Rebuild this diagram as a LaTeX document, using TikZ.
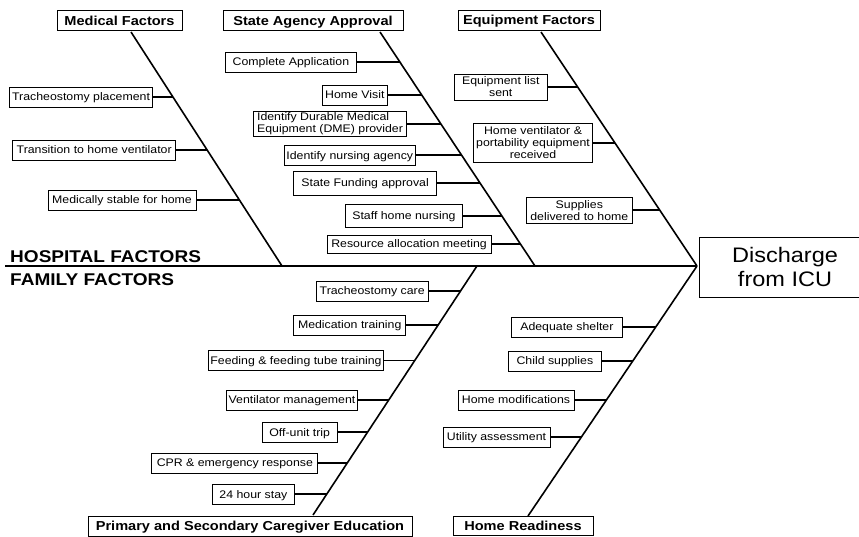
\documentclass[tikz,border=0pt]{standalone}
\usepackage{fontspec}
\setmainfont{Liberation Sans}[FakeStretch=1.12]
\usetikzlibrary{calc,positioning}
\tikzset{
  cause/.style    = {draw, line width=0.8pt, inner xsep=2pt, inner ysep=1.5pt, minimum height=20pt, text height=7.9pt, text depth=0pt, font=\fontsize{11}{12}\selectfont},
  tallcause/.style= {cause, align=center, inner ysep=3pt, text height={}, text depth={}},
  category/.style = {draw, line width=0.9pt, inner xsep=2pt, inner ysep=1pt, minimum height=20pt, text height=9.3pt, text depth=0pt, font=\fontsize{13}{15}\selectfont\bfseries},
  effect/.style   = {draw, line width=0.9pt, align=center, font=\fontsize{21}{23.5}\selectfont},
  side/.style     = {anchor=base west, inner sep=0pt, font=\fontsize{17}{20}\selectfont\bfseries},
  bone/.style     = {line width=1.6pt},
  twig/.style     = {line width=1.2pt},
}

\begin{document}
\begin{tikzpicture}[x=1pt, y=-1pt]
    \useasboundingbox (0,0) rectangle (859,537);

    % Spine and effect
    \coordinate (tail) at (5,266);
    \coordinate (head) at (697,266);
    \node[effect, minimum width=172pt, minimum height=60pt] (icu) at (785,267) {Discharge\\from ICU};
    \draw[bone] (tail) -- (head);
    \node[side] (hospital) at (10,262.7) {HOSPITAL FACTORS};
    \node[side] (family) at (10,285) {FAMILY FACTORS};

    % Bone ends
    \coordinate (medtop) at (131,32);   \coordinate (medbot) at (282,266);
    \coordinate (statop) at (380,32);   \coordinate (stabot) at (535,266);
    \coordinate (equtop) at (541,32);   \coordinate (equbot) at (697,266);
    \coordinate (edutop) at (477,266);  \coordinate (edubot) at (313,515);
    \coordinate (homtop) at (697,266);  \coordinate (hombot) at (528,516);

    % Medical factors
    \node[category, minimum width=125pt] (medical) at (119.5,20.5) {Medical Factors};
    \draw[bone] (medtop) -- (medbot);
    \coordinate (m1) at ($(medtop)!0.278!(medbot)$);
    \coordinate (m2) at ($(medtop)!0.504!(medbot)$);
    \coordinate (m3) at ($(medtop)!0.718!(medbot)$);
    \node[cause, minimum width=143pt, left=20pt of m1] (trachplace) {Tracheostomy placement};
    \node[cause, minimum width=163pt, left=31pt of m2] (transition) {Transition to home ventilator};
    \node[cause, minimum width=148pt, left=43pt of m3] (stable) {Medically stable for home};
    \draw[twig] (trachplace) -- (m1);
    \draw[twig] (transition) -- (m2);
    \draw[twig] (stable) -- (m3);

    % State agency approval
    \node[category, minimum width=180pt] (state) at (313,20.5) {State Agency Approval};
    \draw[bone] (statop) -- (stabot);
    \coordinate (s1) at ($(statop)!0.128!(stabot)$);
    \coordinate (s2) at ($(statop)!0.269!(stabot)$);
    \coordinate (s3) at ($(statop)!0.393!(stabot)$);
    \coordinate (s4) at ($(statop)!0.526!(stabot)$);
    \coordinate (s5) at ($(statop)!0.645!(stabot)$);
    \coordinate (s6) at ($(statop)!0.786!(stabot)$);
    \coordinate (s7) at ($(statop)!0.906!(stabot)$);
    \node[cause, minimum width=131pt, left=43pt of s1] (application) {Complete Application};
    \node[cause, minimum width=65pt, left=34pt of s2] (visit) {Home Visit};
    \node[tallcause, minimum width=153pt, left=34pt of s3, align=left, inner ysep=1.5pt] (dme) {Identify Durable Medical\\Equipment (DME) provider};
    \node[cause, minimum width=130pt, left=46pt of s4] (agency) {Identify nursing agency};
    \node[cause, minimum width=143pt, minimum height=24pt, left=43pt of s5] (funding) {State Funding approval};
    \node[cause, minimum width=117pt, minimum height=23pt, left=39pt of s6] (staff) {Staff home nursing};
    \node[cause, minimum width=164pt, minimum height=18pt, left=29pt of s7] (resource) {Resource allocation meeting};
    \draw[twig] (application) -- (s1);
    \draw[twig] (visit) -- (s2);
    \draw[twig] (dme) -- (s3);
    \draw[twig] (agency) -- (s4);
    \draw[twig] (funding) -- (s5);
    \draw[twig] (staff) -- (s6);
    \draw[twig] (resource) -- (s7);

    % Equipment factors
    \node[category, minimum width=142pt] (equipment) at (529,20) {Equipment Factors};
    \draw[bone] (equtop) -- (equbot);
    \coordinate (e1) at ($(equtop)!0.235!(equbot)$);
    \coordinate (e2) at ($(equtop)!0.474!(equbot)$);
    \coordinate (e3) at ($(equtop)!0.761!(equbot)$);
    \node[tallcause, minimum width=93pt, left=30pt of e1] (eqlist) {Equipment list\\sent};
    \node[tallcause, minimum width=119pt, left=22pt of e2] (ventilator) {Home ventilator \&\\portability equipment\\received};
    \node[tallcause, minimum width=106pt, left=27pt of e3] (supplies) {Supplies\\delivered to home};
    \draw[twig] (eqlist) -- (e1);
    \draw[twig] (ventilator) -- (e2);
    \draw[twig] (supplies) -- (e3);

    % Caregiver education
    \node[category, minimum width=324pt] (education) at (250,526) {Primary and Secondary Caregiver Education};
    \draw[bone] (edubot) -- (edutop);
    \coordinate (c1) at ($(edutop)!0.100!(edubot)$);
    \coordinate (c2) at ($(edutop)!0.237!(edubot)$);
    \coordinate (c3) at ($(edutop)!0.378!(edubot)$);
    \coordinate (c4) at ($(edutop)!0.538!(edubot)$);
    \coordinate (c5) at ($(edutop)!0.667!(edubot)$);
    \coordinate (c6) at ($(edutop)!0.791!(edubot)$);
    \coordinate (c7) at ($(edutop)!0.916!(edubot)$);
    \node[cause, minimum width=112pt, left=32pt of c1] (trachcare) {Tracheostomy care};
    \node[cause, minimum width=112pt, left=32pt of c2] (medication) {Medication training};
    \node[cause, minimum width=174pt, left=31pt of c3] (feeding) {Feeding \& feeding tube training};
    \node[cause, minimum width=130pt, left=31pt of c4] (ventman) {Ventilator management};
    \node[cause, minimum width=75pt, left=30pt of c5] (trip) {Off-unit trip};
    \node[cause, minimum width=166pt, left=29pt of c6] (cpr) {CPR \& emergency response};
    \node[cause, minimum width=82pt, left=32pt of c7] (stay) {24 hour stay};
    \draw[twig] (trachcare) -- (c1);
    \draw[twig] (medication) -- (c2);
    \draw[twig] (feeding) -- (c3);
    \draw[twig] (ventman) -- (c4);
    \draw[twig] (trip) -- (c5);
    \draw[twig] (cpr) -- (c6);
    \draw[twig] (stay) -- (c7);

    % Home readiness
    \node[category, minimum width=140pt, minimum height=19pt] (readiness) at (523,526.3) {Home Readiness};
    \draw[bone] (hombot) -- (homtop);
    \coordinate (h1) at ($(homtop)!0.244!(hombot)$);
    \coordinate (h2) at ($(homtop)!0.380!(hombot)$);
    \coordinate (h3) at ($(homtop)!0.536!(hombot)$);
    \coordinate (h4) at ($(homtop)!0.684!(hombot)$);
    \node[cause, minimum width=111pt, left=33pt of h1] (shelter) {Adequate shelter};
    \node[cause, minimum width=93pt, left=31pt of h2] (child) {Child supplies};
    \node[cause, minimum width=116pt, left=32pt of h3] (modify) {Home modifications};
    \node[cause, minimum width=107pt, left=31pt of h4] (utility) {Utility assessment};
    \draw[twig] (shelter) -- (h1);
    \draw[twig] (child) -- (h2);
    \draw[twig] (modify) -- (h3);
    \draw[twig] (utility) -- (h4);
\end{tikzpicture}
\end{document}
